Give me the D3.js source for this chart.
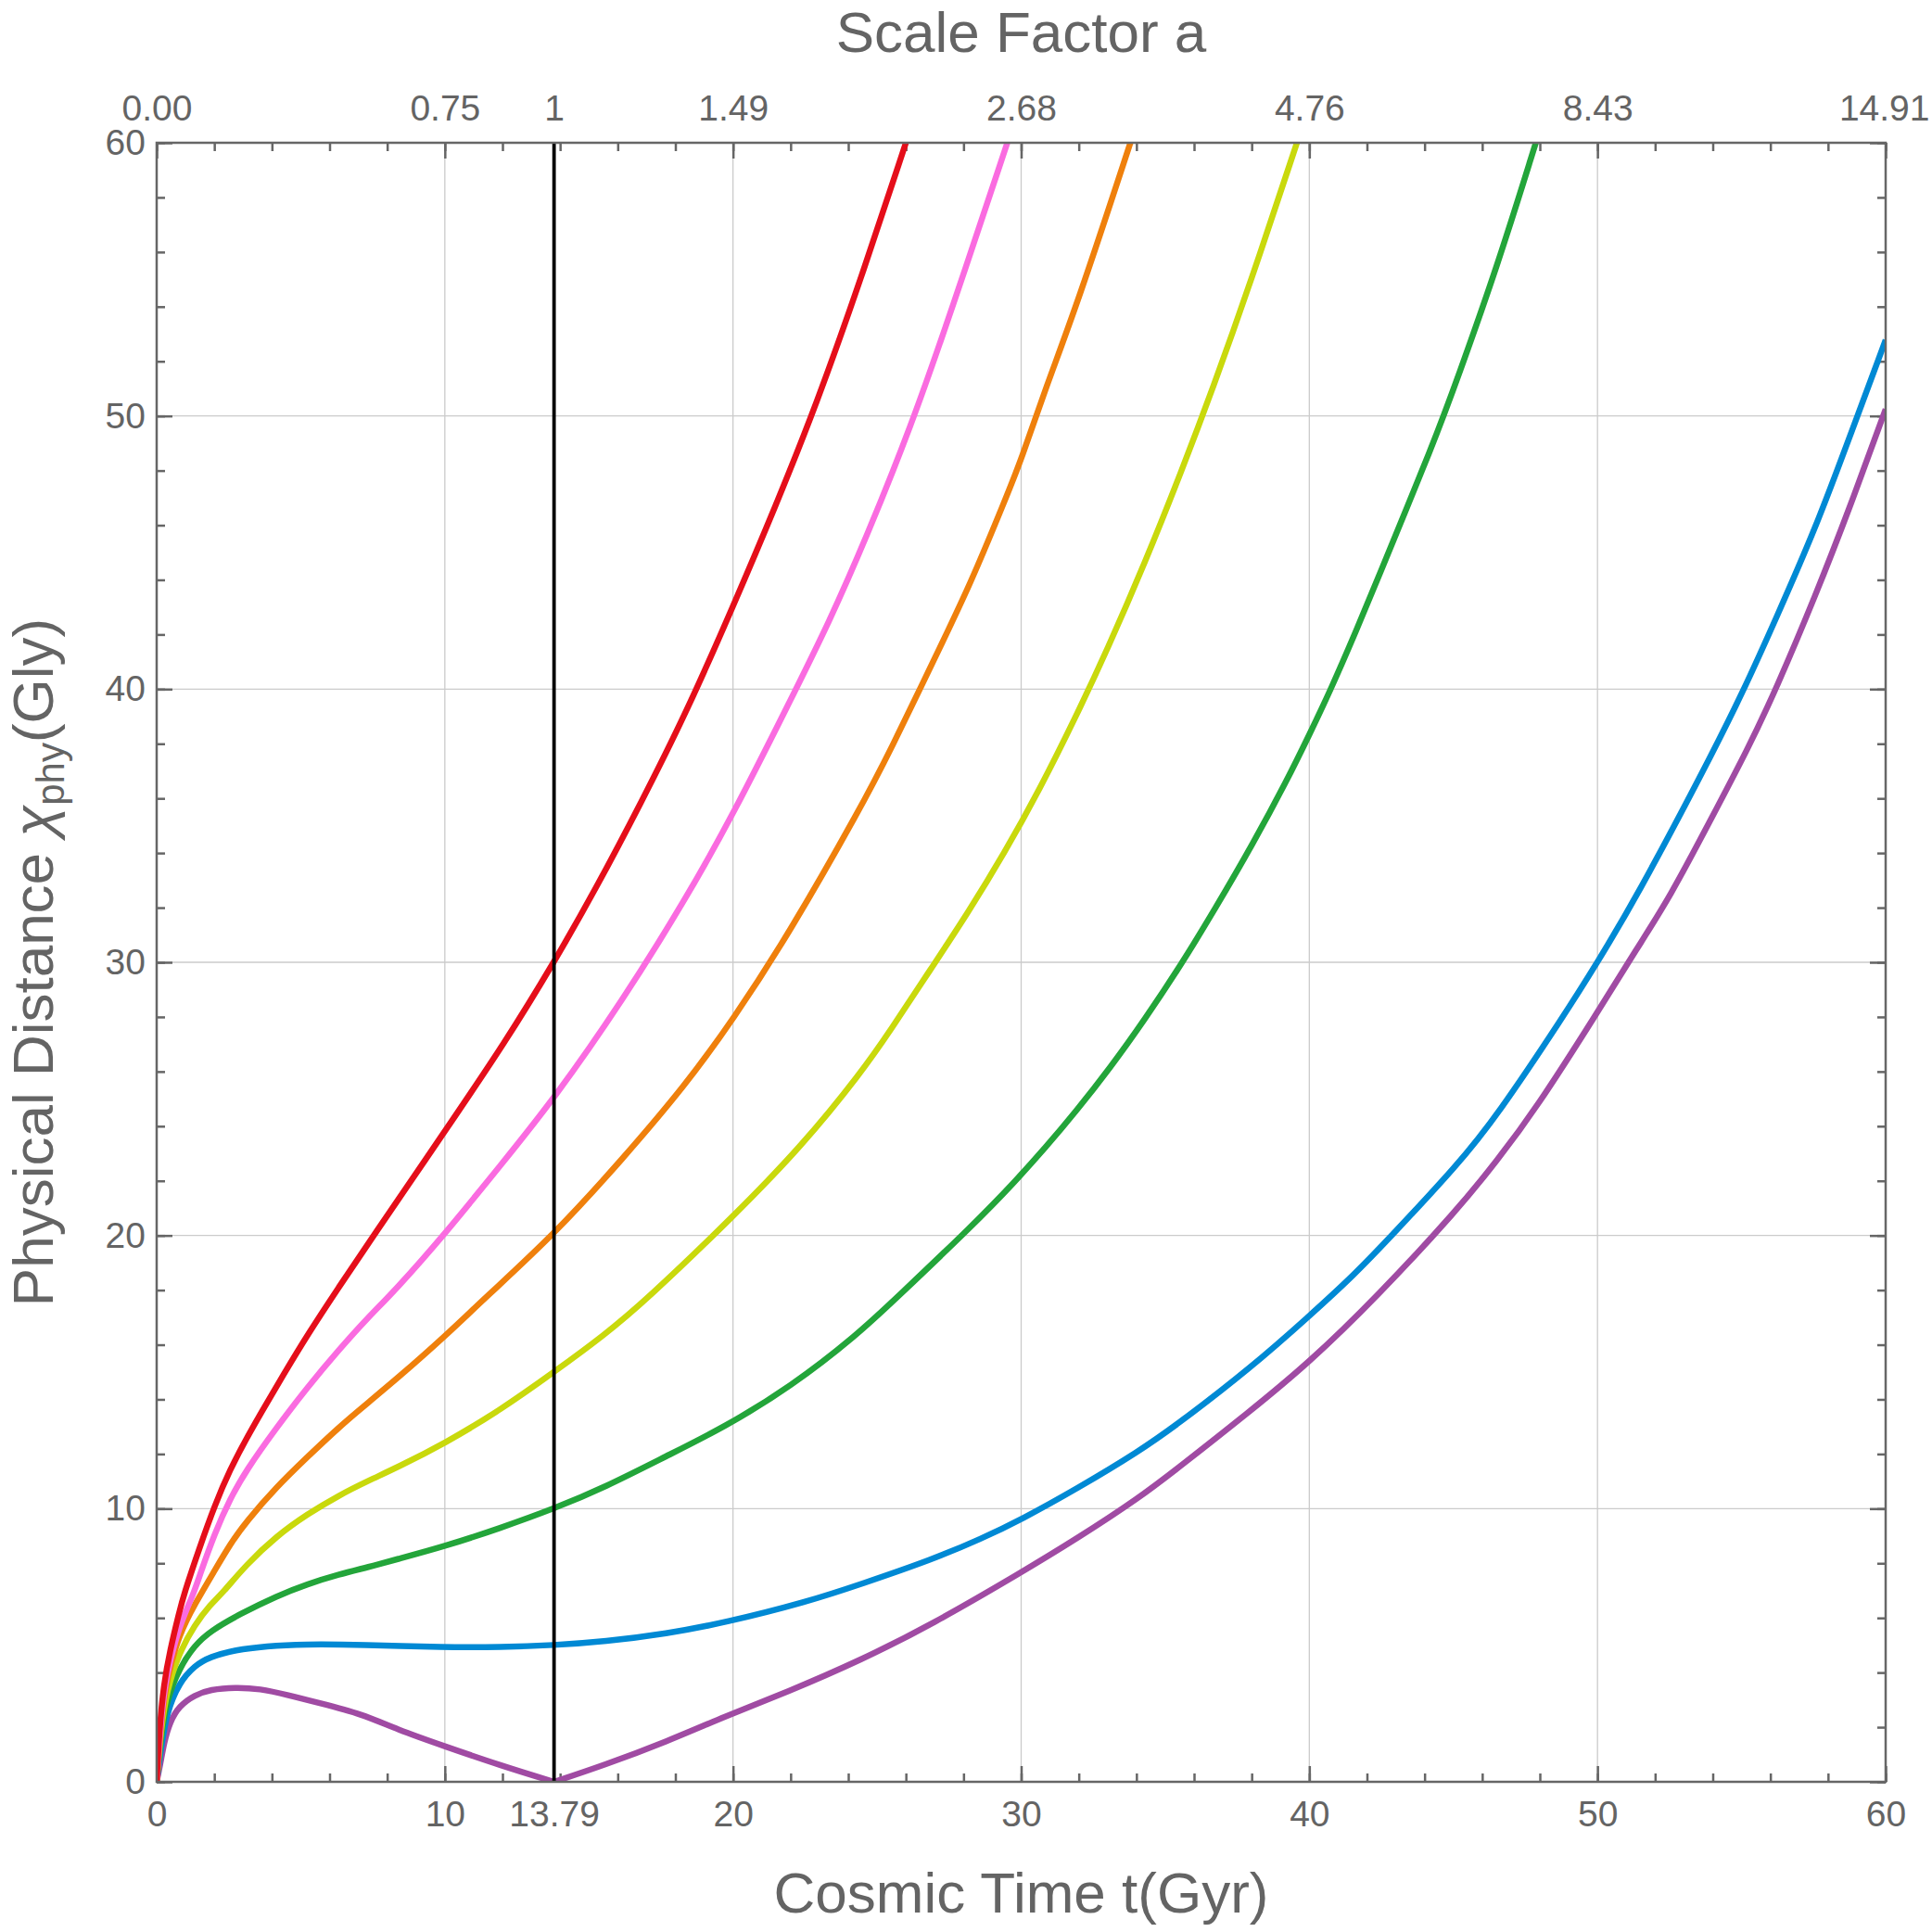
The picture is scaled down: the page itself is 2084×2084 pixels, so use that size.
<!DOCTYPE html>
<html>
<head>
<meta charset="utf-8">
<script src="https://cdn.jsdelivr.net/npm/d3@7"></script>
<style>
  body { margin: 0; background: #fff; }
  text { font-family: 'Liberation Sans', Arial, sans-serif; fill: #646464; }
</style>
</head>
<body>
<svg width="2084" height="2084"></svg>
<script>
// tick values and labels
const tTicks = [0, 10, 13.79, 20, 30, 40, 50, 60];
const tLabels = ['0', '10', '13.79', '20', '30', '40', '50', '60'];
const aLabels = ['0.00', '0.75', '1', '1.49', '2.68', '4.76', '8.43', '14.91'];
const yTicks = [0, 10, 20, 30, 40, 50, 60];
const tNow = 13.79;

// curves: [t (Gyr), distance (Gly)]
const red = [[0,0],[0.09,1.9],[0.25,3.6],[0.46,4.8],[0.78,6.2],[0.94,6.85],[1.48,8.55],[2.02,10.14],[2.55,11.44],[3.09,12.52],[3.63,13.52],[4.38,14.87],[5.23,16.36],[6.31,18.09],[7.38,19.77],[10,23.81],[12.1,27.08],[13.79,30],[15.23,32.67],[16.79,35.8],[18.35,39.07],[20,43.02],[21.48,46.7],[22.88,50.38],[24.44,55.01],[26.0,60]];
const pink = [[0,0],[0.14,2.3],[0.35,4.0],[0.78,5.7],[1.27,6.85],[1.5,7.58],[2.02,9.12],[2.55,10.36],[3.09,11.38],[4.16,12.97],[5.23,14.44],[6.31,15.8],[7.38,17.05],[8.24,17.95],[10,20.05],[11.95,22.59],[13.79,25],[16.17,28.6],[18.35,32.3],[20,35.4],[21.94,39.48],[23.35,42.48],[24.6,45.48],[26.16,49.56],[27.56,53.79],[29.52,60]];
const orange = [[0,0],[0.14,2.1],[0.35,3.8],[0.78,5.4],[1.32,6.5],[2.02,7.75],[2.55,8.7],[3.09,9.5],[4.16,10.8],[5.23,11.89],[6.31,12.97],[7.38,13.92],[8.33,14.75],[10,16.3],[11.39,17.71],[13.79,20.03],[16.17,22.8],[18.35,25.5],[20,27.9],[21.94,31.04],[24.44,35.67],[25.46,37.75],[26.97,41.06],[28.26,43.89],[29.44,46.92],[30,48.38],[30.84,51.0],[31.94,54.06],[33.79,60]];
const yellow = [[0,0],[0.14,1.86],[0.35,3.35],[0.78,4.72],[1.32,5.75],[1.86,6.49],[2.28,6.9],[3.09,7.93],[4.16,9.0],[5.23,9.8],[6.31,10.48],[7.38,11.04],[8.33,11.5],[10,12.39],[11.93,13.61],[13.79,15.0],[15.53,16.35],[16.95,17.6],[20,20.68],[22.41,23.3],[24.44,25.95],[25.46,27.5],[26.86,29.75],[28.15,31.8],[29.44,34.04],[30.62,36.28],[31.91,39.01],[32.99,41.45],[34.28,44.58],[35.57,47.99],[36.65,51.0],[37.96,54.88],[39.57,60]];
const green = [[0,0],[0.14,1.63],[0.35,3.0],[0.78,4.15],[1.32,5.0],[1.86,5.52],[2.9,6.15],[4.16,6.8],[5.23,7.24],[6.31,7.59],[7.38,7.87],[8.24,8.12],[10,8.62],[11.93,9.29],[13.79,10.0],[15.53,10.77],[17.7,11.93],[19.7,12.98],[22.0,14.46],[24.31,16.36],[25.7,17.74],[28.37,20.42],[29.76,21.94],[30.84,23.21],[31.91,24.55],[33.1,26.15],[34.28,27.89],[35.57,29.94],[36.75,31.99],[38.04,34.33],[39.23,36.67],[40,38.33],[40.73,39.95],[41.59,42.04],[42.24,43.7],[44.37,49.15],[45.15,51.4],[46.5,55.4],[47.86,60]];
const blue = [[0,0],[0.14,1.18],[0.35,2.55],[0.78,3.63],[1.32,4.26],[1.86,4.58],[2.72,4.83],[3.8,4.97],[5.08,5.04],[7.13,5.02],[10,4.92],[11.93,4.93],[13.79,5.0],[15.53,5.13],[17.7,5.42],[19.7,5.82],[22.59,6.59],[24.45,7.24],[26.9,8.13],[28.62,8.9],[30,9.6],[31.93,10.73],[34.08,12.09],[35.52,13.16],[37.96,15.15],[40,17.05],[41.55,18.55],[42.82,19.95],[45.15,22.59],[46.5,24.36],[48.83,28.04],[50,30.0],[51.36,32.4],[53.69,37.03],[55.05,39.89],[56.21,42.62],[57.57,45.89],[58.74,49.2],[60,52.78]];
const purple = [[0,0],[0.14,0.72],[0.25,1.41],[0.46,2.2],[0.78,2.78],[1.32,3.18],[1.86,3.38],[2.72,3.46],[3.58,3.41],[4.55,3.18],[5.62,2.89],[7.13,2.48],[8.33,1.92],[10,1.3],[11.93,0.6],[13.79,0],[15.5,0.6],[17.7,1.47],[19.7,2.39],[21.87,3.28],[24.45,4.46],[26.9,5.76],[30,7.66],[31.93,8.9],[34.08,10.38],[35.52,11.55],[37.82,13.46],[40,15.35],[42.33,17.74],[45.15,20.95],[46.5,22.72],[47.86,24.63],[50,28.17],[51.36,30.49],[52.52,32.4],[53.88,35.12],[55.24,37.85],[56.21,40.03],[57.57,43.43],[58.74,46.6],[60,50.25]];

const seriesList = [purple, blue, green, yellow, orange, pink, red];
const seriesColors = ['#a04ba3', '#0089d4', '#23a53a', '#c9d90c', '#ef800c', '#fa6be0', '#e50e1a'];

let svg = d3.select('svg');

const margin = {top: 154, right: 50, bottom: 162, left: 169},
    width = +svg.attr('width') - margin.left - margin.right,
    height = +svg.attr('height') - margin.top - margin.bottom,
    axisColor = '#666666';

let g = svg.append('g').attr('transform', `translate(${margin.left}, ${margin.top})`);

let x = d3.scaleLinear().domain([0, 60]).range([0, width]),
    y = d3.scaleLinear().domain([0, 60]).range([height, 0]);

const minorT = d3.range(0, 61, 2),
    majorT = d3.range(0, 61, 10);

// grid
g.append('g')
  .selectAll('line')
  .data(d3.range(10, 60, 10))
  .enter().append('line')
    .attr('x1', (d) => x(d)).attr('x2', (d) => x(d))
    .attr('y1', 0).attr('y2', height)
    .attr('stroke', '#cbcbcb').attr('stroke-width', 1.3);

g.append('g')
  .selectAll('line')
  .data(d3.range(10, 60, 10))
  .enter().append('line')
    .attr('y1', (d) => y(d)).attr('y2', (d) => y(d))
    .attr('x1', 0).attr('x2', width)
    .attr('stroke', '#cbcbcb').attr('stroke-width', 1.3);

// inward ticks on all four sides
const tickGroup = function(axis, transform) {
  let a = g.append('g').attr('transform', transform).call(axis);
  a.select('.domain').remove();
  a.selectAll('line').attr('stroke', axisColor).attr('stroke-width', 2.5);
  return a;
}

tickGroup(d3.axisBottom(x).tickValues(minorT).tickSize(-9).tickFormat(''), `translate(0, ${height})`);
tickGroup(d3.axisBottom(x).tickValues(majorT).tickSize(-17).tickFormat(''), `translate(0, ${height})`);
tickGroup(d3.axisTop(x).tickValues(minorT).tickSize(-9).tickFormat(''), 'translate(0, 0)');
tickGroup(d3.axisTop(x).tickValues(majorT).tickSize(-17).tickFormat(''), 'translate(0, 0)');
tickGroup(d3.axisLeft(y).tickValues(minorT).tickSize(-9).tickFormat(''), 'translate(0, 0)');
tickGroup(d3.axisLeft(y).tickValues(majorT).tickSize(-17).tickFormat(''), 'translate(0, 0)');
tickGroup(d3.axisRight(y).tickValues(minorT).tickSize(-9).tickFormat(''), `translate(${width}, 0)`);
tickGroup(d3.axisRight(y).tickValues(majorT).tickSize(-17).tickFormat(''), `translate(${width}, 0)`);

// tick labels
const labelGroup = function(axis, transform) {
  let a = g.append('g').attr('transform', transform).call(axis);
  a.select('.domain').remove();
  a.selectAll('line').remove();
  a.selectAll('text')
    .style('font-family', "'Liberation Sans', Arial, sans-serif")
    .attr('font-size', 39)
    .attr('fill', '#646464');
  return a;
}

labelGroup(d3.axisBottom(x).tickValues(tTicks).tickSize(0).tickPadding(20)
  .tickFormat((d, i) => tLabels[i]), `translate(0, ${height})`);

let topLabels = labelGroup(d3.axisTop(x).tickValues(tTicks).tickSize(0).tickPadding(24)
  .tickFormat((d, i) => aLabels[i]), 'translate(0, 0)');
// last label is pushed inside the picture
topLabels.selectAll('text').filter((d) => d === 60)
  .attr('text-anchor', 'end')
  .attr('x', +svg.attr('width') - margin.left - x(60) - 3);

labelGroup(d3.axisLeft(y).tickValues(yTicks).tickSize(0).tickPadding(12), 'translate(0, 0)');

// curves
let clip = svg.append('defs').append('clipPath').attr('id', 'plot-clip');
clip.append('rect').attr('width', width).attr('height', height);

const line = d3.line()
    .x((d) => x(d[0]))
    .y((d) => y(d[1]))
    .curve(d3.curveBasis);

let curves = g.append('g').attr('clip-path', 'url(#plot-clip)');

seriesList.forEach((s, i) => {
  // split at a sharp minimum so the kink stays sharp
  let k = s.findIndex((d, j) => j > 0 && j < s.length - 1 && d[1] === 0);
  let parts = k > 0 ? [s.slice(0, k + 1), s.slice(k)] : [s];
  parts.forEach((p) => {
    curves.append('path')
      .attr('d', line(p))
      .attr('fill', 'none')
      .attr('stroke', seriesColors[i])
      .attr('stroke-width', 6.5)
      .attr('stroke-linejoin', 'round');
  });
});

// present time
g.append('line')
  .attr('x1', x(tNow)).attr('x2', x(tNow))
  .attr('y1', y(0)).attr('y2', y(60))
  .attr('stroke', '#000').attr('stroke-width', 3.8);

// frame
g.append('rect')
  .attr('width', width).attr('height', height)
  .attr('fill', 'none')
  .attr('stroke', axisColor).attr('stroke-width', 2.5);

// axis titles
svg.append('text')
  .attr('x', margin.left + width / 2).attr('y', 56)
  .attr('text-anchor', 'middle')
  .attr('font-size', 62)
  .text('Scale Factor a');

svg.append('text')
  .attr('x', margin.left + width / 2).attr('y', 2063)
  .attr('text-anchor', 'middle')
  .attr('font-size', 62)
  .text('Cosmic Time t(Gyr)');

let yTitle = svg.append('text')
  .attr('transform', `translate(57, ${margin.top + height / 2}) rotate(-90)`)
  .attr('text-anchor', 'middle')
  .attr('font-size', 62);
yTitle.append('tspan').text('Physical Distance ');
yTitle.append('tspan').attr('font-style', 'italic').text('χ');
yTitle.append('tspan').attr('font-size', 42).attr('dy', 12).text('phy');
yTitle.append('tspan').attr('dy', -12).text('(Gly)');
</script>
</body>
</html>
